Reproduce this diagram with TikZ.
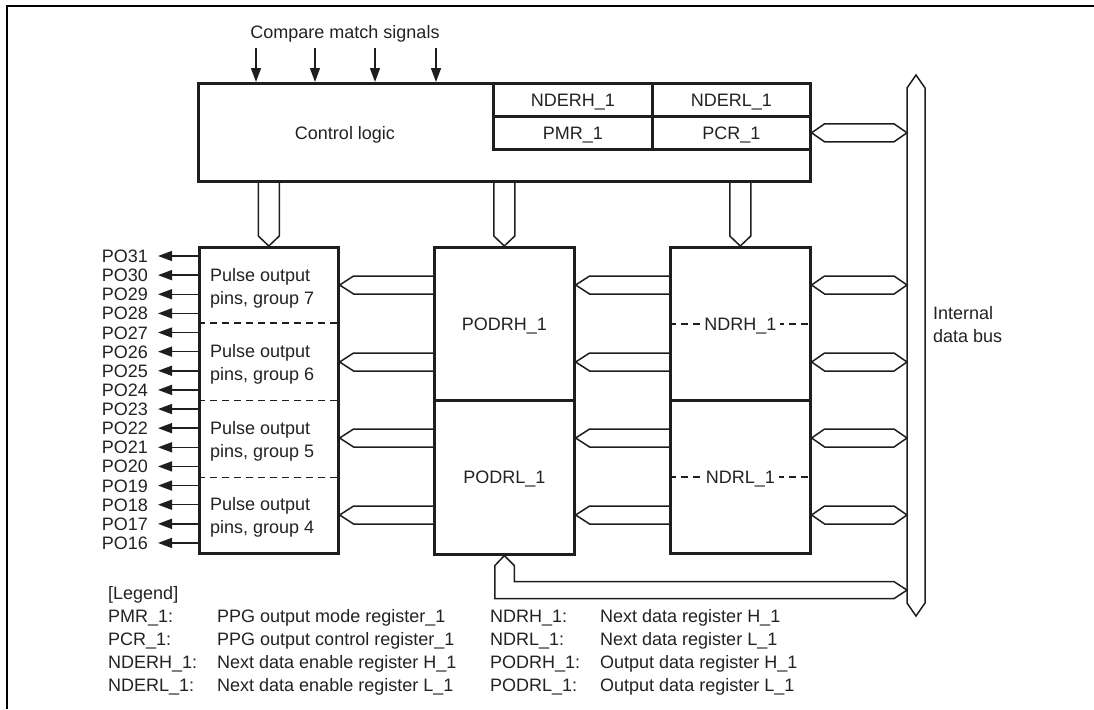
\documentclass[tikz,border=0pt]{standalone}
\usepackage{fontspec}
\setmainfont{Liberation Sans}
\usetikzlibrary{arrows.meta,calc}
\definecolor{txt}{HTML}{222222}
\definecolor{ln}{HTML}{1E1E1E}
\newcommand\hbusL[2]{%
  \draw[bus] let \p1=(#1), \p2=(#2) in
    (\x2,{\y1+9pt}) -- ({\x1+14pt},{\y1+9pt}) -- (\x1,\y1) -- ({\x1+14pt},{\y1-9pt}) -- (\x2,{\y1-9pt});}
\newcommand\hbusLR[2]{%
  \draw[bus] let \p1=(#1), \p2=(#2) in
    (\x1,\y1) -- ({\x1+13pt},{\y1+9pt}) -- ({\x2-13pt},{\y1+9pt}) -- (\x2,\y1)
    -- ({\x2-13pt},{\y1-9pt}) -- ({\x1+13pt},{\y1-9pt}) -- cycle;}
\newcommand\vbusD[2]{%
  \draw[bus] let \p1=(#1), \p2=(#2) in
    ({\x1-10.5pt},\y1) -- ({\x1-10.5pt},{\y2+10pt}) -- (\x1,\y2) -- ({\x1+10.5pt},{\y2+10pt}) -- ({\x1+10.5pt},\y1);}
\begin{document}
\begin{tikzpicture}[x=1pt,y=-1pt,
  font=\fontsize{18}{23}\selectfont, text=txt,
  blk/.style={draw=ln, line width=2.6pt, inner sep=0pt, anchor=north west, text height=13pt, text depth=0pt},
  one/.style={inner sep=0pt, text height=13pt, text depth=0pt},
  multi/.style={inner sep=0pt, align=left, anchor=west},
  bus/.style={draw=ln, line width=1.5pt, line join=miter},
  sig/.style={draw=ln, line width=1.5pt, -{Triangle[length=14pt,width=10pt]}},
  dsh/.style={draw=ln, line width=1.5pt, dash pattern=on 7pt off 5pt}]
\useasboundingbox (0,0) rectangle (1094,709);
% frame
\draw[line width=2.4pt, black] (7,709) -- (7,6) -- (1094,6);

% control logic block and registers
\node[blk, minimum width=612pt, minimum height=98pt] (ctrl) at (197,82) {};
\node[one] (ctrltxt) at (345,133) {Control logic};
\node[blk, minimum width=159pt, minimum height=33pt] (nderh) at (492,82) {NDERH\_1};
\node[blk, minimum width=158pt, minimum height=33pt] (nderl) at (651,82) {NDERL\_1};
\node[blk, minimum width=159pt, minimum height=33pt] (pmr) at (492,115) {PMR\_1};
\node[blk, minimum width=158pt, minimum height=33pt] (pcr) at (651,115) {PCR\_1};

% compare match signals
\node[one] (cms) at (345,32) {Compare match signals};
\coordinate (s1) at (256,48);
\coordinate (s2) at (315,48);
\coordinate (s3) at (375,48);
\coordinate (s4) at (436,48);
\foreach \s in {s1,s2,s3,s4} \draw[sig] (\s) -- (\s |- ctrl.north);

% pulse output block
\node[blk, minimum width=139pt, minimum height=306pt] (po) at (198,246) {};
\foreach \f in {0.25,0.5,0.75}
  \draw[dsh] ($(po.north west)!\f!(po.south west)$) -- ($(po.north east)!\f!(po.south east)$);
\node[multi] (g7) at (210,288) {Pulse output\\pins, group 7};
\node[multi] (g6) at (210,364.5) {Pulse output\\pins, group 6};
\node[multi] (g5) at (210,441) {Pulse output\\pins, group 5};
\node[multi] (g4) at (210,517.5) {Pulse output\\pins, group 4};

% pins
\foreach \i in {0,...,15} {
  \pgfmathtruncatemacro\num{31-\i}
  \node[one, anchor=east] (pin\num) at (148,{256+19.13*\i}) {PO\num};
  \draw[sig, shorten >=10pt] (po.west |- pin\num.east) -- (pin\num.east);
}

% PODR and NDR blocks
\node[blk, minimum width=140pt, minimum height=153pt] (podrh) at (433,246) {};
\node[blk, minimum width=140pt, minimum height=154pt] (podrl) at (433,399) {};
\node[one] (podrhtxt) at (podrh.center) {PODRH\_1};
\node[one] (podrltxt) at (podrl.center) {PODRL\_1};
\node[blk, minimum width=140pt, minimum height=153pt] (ndrh) at (669,246) {};
\node[blk, minimum width=140pt, minimum height=153pt] (ndrl) at (669,399) {};
\draw[dsh] (ndrh.west) -- (ndrh.east);
\draw[dsh] (ndrl.west) -- (ndrl.east);
\node[one, fill=white, inner xsep=4pt] (ndrhtxt) at (ndrh.center) {NDRH\_1};
\node[one, fill=white, inner xsep=4pt] (ndrltxt) at (ndrl.center) {NDRL\_1};

% internal data bus
\coordinate (dbtop) at (916,75);
\coordinate (dbbot) at (916,616);
\coordinate (dbleft) at (907,350);
\draw[bus] ($(dbtop)+(-9,13)$) -- (dbtop) -- ($(dbtop)+(9,13)$) -- ($(dbbot)+(9,-13)$)
  -- (dbbot) -- ($(dbbot)+(-9,-13)$) -- cycle;
\node[multi] (dbtxt) at (933,324.5) {Internal\\data bus};

% rows
\coordinate (row1) at (0,285);
\coordinate (row2) at (0,362);
\coordinate (row3) at (0,438);
\coordinate (row4) at (0,515);

\hbusL{po.east |- row1}{podrh.west |- row1}
\hbusL{po.east |- row2}{podrh.west |- row2}
\hbusL{po.east |- row3}{podrl.west |- row3}
\hbusL{po.east |- row4}{podrl.west |- row4}

\hbusL{podrh.east |- row1}{ndrh.west |- row1}
\hbusL{podrh.east |- row2}{ndrh.west |- row2}
\hbusL{podrl.east |- row3}{ndrl.west |- row3}
\hbusL{podrl.east |- row4}{ndrl.west |- row4}

\hbusLR{ndrh.east |- row1}{dbleft |- row1}
\hbusLR{ndrh.east |- row2}{dbleft |- row2}
\hbusLR{ndrl.east |- row3}{dbleft |- row3}
\hbusLR{ndrl.east |- row4}{dbleft |- row4}

\hbusLR{ctrl.east |- pcr}{dbleft |- pcr}

% vertical buses from control logic
\vbusD{ctrl.south -| po.north}{po.north}
\vbusD{ctrl.south -| podrh.north}{podrh.north}
\vbusD{ctrl.south -| ndrh.north}{ndrh.north}

% bottom bus from PODRL to internal data bus
\draw[bus] let \p1=(podrl.south), \p2=(dbleft) in
  (\x1,\y1) -- ({\x1+10pt},{\y1-10pt}) -- ({\x1+10pt},{\y1-26pt}) -- ({\x2-13pt},{\y1-26pt})
  -- (\x2,{\y1-34.5pt}) -- ({\x2-13pt},{\y1-43pt}) -- ({\x1-9.5pt},{\y1-43pt})
  -- ({\x1-9.5pt},{\y1-10pt}) -- cycle;

% legend
\node[one, anchor=west] (leg) at (108,593) {[Legend]};
\node[one, anchor=west] (l1a) at (108,616) {PMR\_1:};
\node[one, anchor=west] (l1b) at (217,616) {PPG output mode register\_1};
\node[one, anchor=west] (l2a) at (108,639) {PCR\_1:};
\node[one, anchor=west] (l2b) at (217,639) {PPG output control register\_1};
\node[one, anchor=west] (l3a) at (108,662) {NDERH\_1:};
\node[one, anchor=west] (l3b) at (217,662) {Next data enable register H\_1};
\node[one, anchor=west] (l4a) at (108,685) {NDERL\_1:};
\node[one, anchor=west] (l4b) at (217,685) {Next data enable register L\_1};
\node[one, anchor=west] (r1a) at (490,616) {NDRH\_1:};
\node[one, anchor=west] (r1b) at (600,616) {Next data register H\_1};
\node[one, anchor=west] (r2a) at (490,639) {NDRL\_1:};
\node[one, anchor=west] (r2b) at (600,639) {Next data register L\_1};
\node[one, anchor=west] (r3a) at (490,662) {PODRH\_1:};
\node[one, anchor=west] (r3b) at (600,662) {Output data register H\_1};
\node[one, anchor=west] (r4a) at (490,685) {PODRL\_1:};
\node[one, anchor=west] (r4b) at (600,685) {Output data register L\_1};
\end{tikzpicture}
\end{document}
